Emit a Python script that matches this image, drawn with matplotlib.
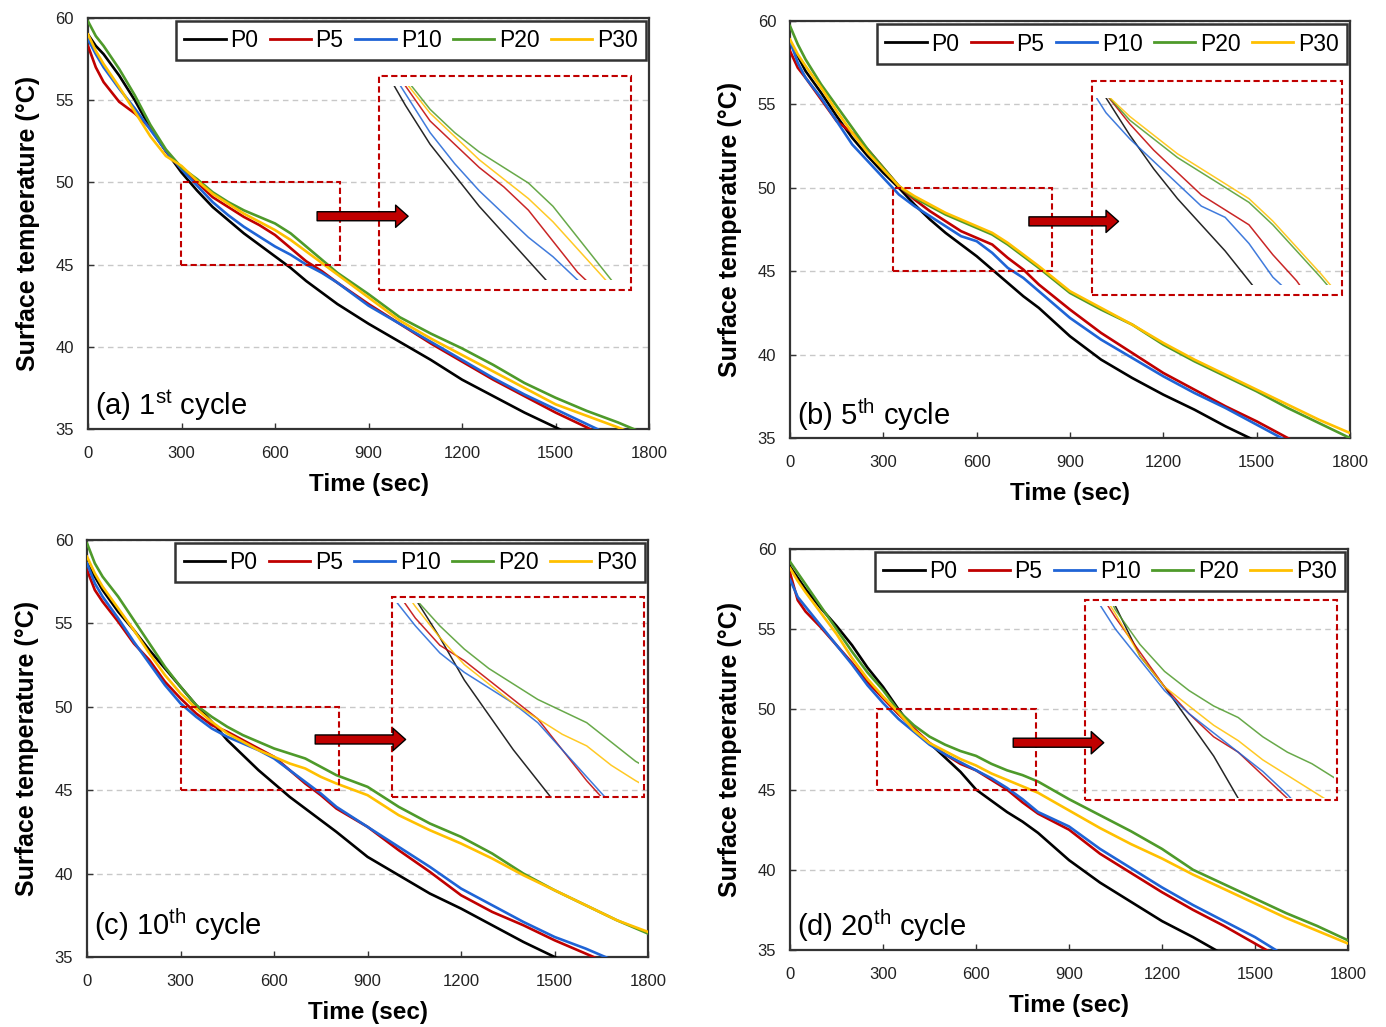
import matplotlib
matplotlib.use('Agg')
import matplotlib.pyplot as plt
from matplotlib.patches import Rectangle, FancyArrowPatch

plt.rcParams['font.family'] = ['Liberation Sans', 'DejaVu Sans']
plt.rcParams['mathtext.fontset'] = 'custom'
plt.rcParams['mathtext.rm'] = 'Liberation Sans'
plt.rcParams['mathtext.it'] = 'Liberation Sans:italic'
plt.rcParams['mathtext.bf'] = 'Liberation Sans:bold'

# ---------------- data ----------------
TIME = [0, 25, 50, 100, 150, 200, 250, 300, 350, 400, 450, 500, 550, 600, 650, 700,
        750, 800, 900, 1000, 1100, 1200, 1300, 1400, 1500, 1600, 1700, 1800]
SERIES = ['P0', 'P5', 'P10', 'P20', 'P30']
PANEL_LABELS = [r'(a) 1$^{\mathrm{st}}$ cycle', r'(b) 5$^{\mathrm{th}}$ cycle',
                r'(c) 10$^{\mathrm{th}}$ cycle', r'(d) 20$^{\mathrm{th}}$ cycle']
X_TICKS = [0, 300, 600, 900, 1200, 1500, 1800]
Y_TICKS = [35, 40, 45, 50, 55, 60]

# (a) 1st cycle
A_P0 = [59.0, 58.3, 57.8, 56.5, 55.0, 53.3, 51.9, 50.6, 49.5, 48.5, 47.7, 46.9, 46.2, 45.5, 44.8, 44.0,
        43.3, 42.6, 41.4, 40.3, 39.2, 38.0, 37.0, 36.0, 35.1, 34.2, 33.4, 32.6]
A_P5 = [58.3, 57.0, 56.1, 54.9, 54.2, 53.3, 51.9, 50.8, 50.0, 49.1, 48.5, 47.9, 47.4, 46.8, 46.0, 45.2,
        44.6, 43.9, 42.6, 41.4, 40.2, 39.1, 38.0, 37.0, 36.0, 35.1, 34.1, 33.1]
A_P10 = [58.7, 57.8, 57.0, 55.7, 54.5, 53.2, 51.9, 50.8, 49.8, 48.8, 48.0, 47.3, 46.7, 46.1, 45.6, 45.0,
         44.5, 43.9, 42.5, 41.4, 40.3, 39.2, 38.1, 37.1, 36.2, 35.3, 34.4, 33.5]
A_P20 = [59.8, 58.9, 58.3, 56.9, 55.3, 53.5, 52.0, 50.9, 50.2, 49.4, 48.8, 48.3, 47.9, 47.5, 46.9, 46.1,
         45.3, 44.5, 43.2, 41.8, 40.8, 39.9, 38.9, 37.8, 36.9, 36.1, 35.4, 34.6]
A_P30 = [59.0, 58.0, 57.2, 55.8, 54.3, 52.8, 51.6, 51.0, 50.1, 49.3, 48.7, 48.1, 47.6, 47.1, 46.5, 45.8,
         45.1, 44.4, 43.0, 41.6, 40.5, 39.5, 38.5, 37.5, 36.5, 35.8, 35.1, 34.3]

# (b) 5th cycle
B_P0 = [58.7, 57.9, 57.0, 55.7, 54.3, 53.0, 51.9, 50.9, 50.0, 49.0, 48.1, 47.3, 46.6, 45.9, 45.1, 44.3,
        43.5, 42.8, 41.1, 39.7, 38.6, 37.6, 36.7, 35.7, 34.8, 33.9, 33.0, 32.1]
B_P5 = [58.2, 57.2, 56.6, 55.3, 54.0, 53.3, 52.3, 51.2, 50.1, 49.3, 48.6, 48.0, 47.4, 47.0, 46.6, 45.8,
        45.1, 44.2, 42.7, 41.3, 40.1, 38.9, 37.9, 36.9, 36.0, 35.0, 34.1, 33.2]
B_P10 = [58.8, 57.5, 56.6, 55.4, 54.0, 52.6, 51.6, 50.6, 49.6, 48.9, 48.3, 47.7, 47.1, 46.8, 46.1, 45.2,
         44.6, 43.8, 42.2, 40.9, 39.8, 38.7, 37.7, 36.8, 35.8, 34.8, 33.9, 33.0]
B_P20 = [59.7, 58.6, 57.7, 56.2, 54.9, 53.6, 52.3, 51.2, 50.1, 49.4, 48.9, 48.4, 48.0, 47.6, 47.2, 46.6,
         45.9, 45.2, 43.7, 42.7, 41.8, 40.6, 39.6, 38.7, 37.8, 36.8, 35.9, 35.0]
B_P30 = [58.9, 58.0, 57.3, 56.0, 54.6, 53.3, 52.1, 51.1, 50.1, 49.5, 49.0, 48.5, 48.1, 47.7, 47.3, 46.7,
         46.0, 45.3, 43.8, 42.8, 41.8, 40.7, 39.7, 38.8, 37.9, 37.0, 36.1, 35.3]

# (c) 10th cycle
C_P0 = [58.6, 57.8, 57.0, 55.7, 54.6, 53.4, 52.3, 51.2, 50.1, 49.1, 48.0, 47.1, 46.2, 45.4, 44.6, 43.9,
        43.2, 42.5, 41.0, 39.9, 38.8, 37.9, 36.9, 35.9, 35.0, 34.1, 33.2, 32.3]
C_P5 = [58.2, 57.0, 56.3, 55.1, 53.8, 52.8, 51.5, 50.5, 49.6, 48.9, 48.5, 48.0, 47.5, 47.0, 46.2, 45.4,
        44.7, 43.9, 42.8, 41.4, 40.1, 38.7, 37.7, 36.9, 36.0, 35.2, 34.4, 33.6]
C_P10 = [58.6, 57.4, 56.6, 55.3, 53.9, 52.6, 51.3, 50.2, 49.4, 48.7, 48.2, 47.8, 47.4, 46.9, 46.2, 45.5,
         44.8, 44.0, 42.8, 41.6, 40.4, 39.1, 38.1, 37.1, 36.2, 35.5, 34.7, 33.9]
C_P20 = [59.8, 58.6, 57.8, 56.6, 55.2, 53.8, 52.4, 51.2, 50.1, 49.4, 48.8, 48.3, 47.9, 47.5, 47.2, 46.9,
         46.4, 45.9, 45.2, 44.0, 43.0, 42.2, 41.2, 40.0, 39.0, 38.1, 37.2, 36.4]
C_P30 = [59.0, 58.0, 57.2, 55.9, 54.6, 53.2, 51.9, 50.8, 49.9, 49.1, 48.4, 47.9, 47.4, 47.0, 46.6, 46.3,
         45.8, 45.4, 44.7, 43.5, 42.6, 41.8, 40.9, 39.9, 39.0, 38.1, 37.2, 36.5]

# (d) 20th cycle
D_P0 = [58.9, 58.2, 57.5, 56.3, 55.2, 54.0, 52.6, 51.4, 50.0, 48.7, 47.9, 47.0, 46.1, 45.0, 44.3, 43.6,
        43.0, 42.3, 40.6, 39.2, 38.0, 36.8, 35.8, 34.7, 33.6, 32.5, 31.4, 30.3]
D_P5 = [58.5, 56.8, 56.1, 55.1, 54.0, 52.9, 51.7, 50.7, 49.7, 48.8, 47.9, 47.2, 46.6, 46.2, 45.6, 45.0,
        44.2, 43.5, 42.5, 41.0, 39.8, 38.6, 37.5, 36.5, 35.4, 34.3, 33.3, 32.3]
D_P10 = [58.1, 57.0, 56.4, 55.2, 54.0, 52.8, 51.5, 50.4, 49.4, 48.6, 47.8, 47.2, 46.7, 46.2, 45.7, 45.1,
         44.4, 43.6, 42.7, 41.3, 40.1, 38.9, 37.8, 36.8, 35.8, 34.6, 33.5, 32.5]
D_P20 = [59.2, 58.5, 57.8, 56.4, 55.0, 53.6, 52.3, 51.2, 49.9, 49.0, 48.3, 47.8, 47.4, 47.1, 46.6, 46.2,
         45.9, 45.5, 44.4, 43.4, 42.4, 41.3, 40.0, 39.1, 38.2, 37.3, 36.5, 35.6]
D_P30 = [58.8, 58.0, 57.3, 56.0, 54.7, 53.2, 51.9, 50.8, 49.8, 48.7, 47.9, 47.4, 46.9, 46.5, 46.0, 45.6,
         45.2, 44.8, 43.7, 42.6, 41.6, 40.7, 39.7, 38.8, 37.9, 37.0, 36.2, 35.4]

PANEL_DATA = [
    [A_P0, A_P5, A_P10, A_P20, A_P30],
    [B_P0, B_P5, B_P10, B_P20, B_P30],
    [C_P0, C_P5, C_P10, C_P20, C_P30],
    [D_P0, D_P5, D_P10, D_P20, D_P30],
]

# zoom boxes (time range, temperature range)
ZOOM_T = [(297, 808), (330, 841), (300, 807), (281, 795)]
ZOOM_Y = [(45, 50), (45, 50), (45, 50), (45, 50)]

# ---------------- layout / style ----------------
COLORS = ['#000000', '#C00000', '#1F64D6', '#4E9A2A', '#FFC000']
AX_POS = [[0.0635, 0.5823, 0.4048, 0.4002],
          [0.5700, 0.5735, 0.4040, 0.4060],
          [0.0628, 0.0682, 0.4048, 0.4060],
          [0.5700, 0.0750, 0.4026, 0.3905]]
# dashed rectangle around enlarged view (x0, y0, x1, y1) in data coords
INSET_RECT = [(935, 43.48, 1741, 56.44), (972, 43.6, 1775, 56.4),
              (977, 44.58, 1786, 56.6), (953, 44.32, 1765, 56.8)]
# inset axes bounds (x0, y0, w, h) in data coords
INSET_AX = [(935, 44.06, 806, 11.8), (985, 44.2, 783, 11.2),
            (975, 44.64, 796, 11.6), (940, 44.45, 815, 12.0)]
ARROW = [(735, 1027, 47.94), (768, 1056, 47.99), (732, 1022, 48.04), (720, 1012, 47.92)]
LABEL_POS = [(22, 35.85), (22, 35.8), (22, 36.3), (22, 35.9)]
BOX_RED = '#C00000'

fig = plt.figure(figsize=(13.86, 10.27), dpi=100)

for i in range(4):
    ax = fig.add_axes(AX_POS[i])
    data = PANEL_DATA[i]
    for name, vals, col in zip(SERIES, data, COLORS):
        ax.plot(TIME, vals, color=col, lw=1.9, label=name, zorder=3)
    ax.set_xlim(0, 1800)
    ax.set_ylim(35, 60)
    ax.set_xticks(X_TICKS)
    ax.set_yticks(Y_TICKS)
    ax.grid(axis='y', color='#C8C8C8', ls=(0, (4, 3)), lw=1.0, zorder=0)
    ax.set_axisbelow(True)
    ax.tick_params(direction='in', length=4, width=1, labelsize=12, colors='#333333',
                   labelcolor='#222222')
    ax.tick_params(axis='x', pad=12)
    ax.tick_params(axis='y', pad=10)
    for sp in ax.spines.values():
        sp.set_linewidth(1.6)
        sp.set_color('#333333')
    ax.set_xlabel('Time (sec)', fontsize=17.5, fontweight='bold', labelpad=9)
    ax.set_ylabel('Surface temperature (°C)', fontsize=18, fontweight='bold', labelpad=11)

    leg = ax.legend(loc='upper right', ncol=5, fontsize=16.5, frameon=True, fancybox=False,
                    handlelength=1.8, handletextpad=0.2, columnspacing=0.5,
                    borderpad=0.35, borderaxespad=0.15)
    leg.get_frame().set_edgecolor('black')
    leg.get_frame().set_linewidth(1.8)
    leg.set_zorder(10)
    for lh in leg.get_lines():
        lh.set_linewidth(2.0)

    # zoom box
    (t0, t1), (y0, y1) = ZOOM_T[i], ZOOM_Y[i]
    ax.add_patch(Rectangle((t0, y0), t1 - t0, y1 - y0, fill=False, ec=BOX_RED,
                           ls=(0, (3, 1.6)), lw=1.5, zorder=5))
    # enlarged view rectangle
    rx0, ry0, rx1, ry1 = INSET_RECT[i]
    ax.add_patch(Rectangle((rx0, ry0), rx1 - rx0, ry1 - ry0, fill=False, ec=BOX_RED,
                           ls=(0, (3, 1.6)), lw=1.5, zorder=5))
    ins = ax.inset_axes(INSET_AX[i], transform=ax.transData)
    for vals, col in zip(data, COLORS):
        ins.plot(TIME, vals, color=col, lw=1.1, alpha=0.85)
    ins.set_xlim(t0, t1)
    ins.set_ylim(y0, y1)
    ins.axis('off')

    # arrow
    ax0, ax1, ay = ARROW[i]
    arr = FancyArrowPatch((ax0, ay), (ax1, ay),
                          arrowstyle='simple,head_width=1.6,head_length=0.9,tail_width=0.65',
                          mutation_scale=10, fc=BOX_RED, ec='black', lw=1.0,
                          shrinkA=0, shrinkB=0, zorder=7)
    ax.add_patch(arr)

    lx, ly = LABEL_POS[i]
    ax.text(lx, ly, PANEL_LABELS[i], fontsize=21, va='baseline', ha='left', zorder=8)

fig.savefig('out.png', dpi=100)
